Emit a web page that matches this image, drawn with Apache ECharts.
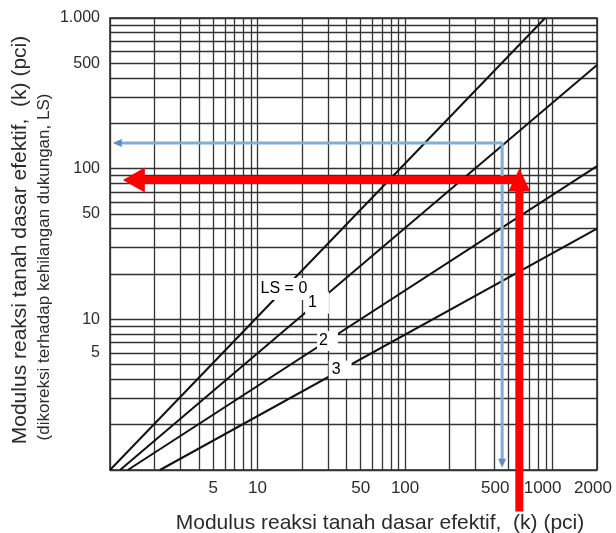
<!DOCTYPE html>
<html><head><meta charset="utf-8">
<script src="https://cdn.jsdelivr.net/npm/echarts@6/dist/echarts.min.js"></script>
<style>html,body{margin:0;padding:0;background:#fff}#c{width:616px;height:533px}</style>
</head><body><div id="c"></div>
<script>
// ---- data ----
const xTickLabels = [5, 10, 50, 100, 500, 1000, 2000];
const yTickLabels = [5, 10, 50, 100, 500, 1000];
const xGridValues = [1,2,3,4,5,6,7,8,9,10,20,30,40,50,60,70,80,90,100,200,300,400,500,600,700,800,900,1000,2000];
const yGridValues = [1,2,3,4,5,6,7,8,9,10,20,30,40,50,60,70,80,90,100,200,300,400,500,600,700,800,900,1000];
const lsNames = ['LS = 0', '1', '2', '3'];
const ls0 = [[1, 1], [890, 1000]];
const ls1 = [[1.17, 1], [2000, 487]];
const ls2 = [[1.32, 1], [2000, 104]];
const ls3 = [[2.18, 1], [2000, 40]];
const lsLabelPos = [[15.1, 15.9], [25.3, 12.9], [29.8, 7.18], [36.3, 4.64]];
const bluePath = [[1.12, 148], [455, 148], [455, 1.11]];
const redPath = [[595, 0.53], [595, 84], [1.45, 84]];

// ---- styles ----
const FONT = '"Liberation Sans", Arial, sans-serif';
const TXT = '#2b2b2b';
const labelPadding = [[3, 2, 3, 2], [3, 12, 3, 3], [2, 10, 2, 2], [1, 11, 1, 3]];

const chart = echarts.init(document.getElementById('c'), null, {renderer: 'canvas'});

function lsSeries(data) {
  return {type: 'line', data: data, symbol: 'none', clip: true, z: 3, silent: true,
    lineStyle: {color: '#111', width: 2}};
}
const xRich = {
  s500: {fontSize: 17, color: TXT, fontFamily: FONT, padding: [0, 26, 0, 0]},
  s1000: {fontSize: 17, color: TXT, fontFamily: FONT, padding: [0, 20, 0, 0]},
  s2000: {fontSize: 17, color: TXT, fontFamily: FONT, padding: [0, 8, 0, 0]}
};

const option = {
  animation: false,
  backgroundColor: '#fff',
  grid: {left: 110, top: 18, width: 487, height: 452, show: true, containLabel: false,
    outerBoundsMode: 'none',
    borderColor: '#222', borderWidth: 1.5, backgroundColor: 'transparent'},
  xAxis: {
    type: 'log', logBase: 10, min: 1, max: 2000,
    axisLine: {show: false},
    axisTick: {show: false, customValues: xGridValues},
    axisLabel: {customValues: xTickLabels, margin: 10, fontSize: 17, color: TXT, fontFamily: FONT,
      formatter: v => (v === 500 || v === 1000 || v === 2000) ? '{s' + v + '|' + v + '}' : String(v),
      rich: xRich},
    splitLine: {show: true, lineStyle: {color: '#333', width: 1.3}},
    name: 'Modulus reaksi tanah dasar efektif,  (k) (pci)',
    nameLocation: 'middle', nameGap: 43,
    nameTextStyle: {fontSize: 21, color: TXT, fontFamily: FONT, padding: [0, 0, 0, 53]}
  },
  yAxis: {
    type: 'log', logBase: 10, min: 1, max: 1000,
    axisLine: {show: false},
    axisTick: {show: false, customValues: yGridValues},
    axisLabel: {customValues: yTickLabels, margin: 10, fontSize: 16, color: TXT, fontFamily: FONT,
      formatter: v => v === 1000 ? '1.000' : (v === 5 ? '{up|5}' : String(v)),
      rich: {up: {fontSize: 16, color: TXT, fontFamily: FONT, padding: [0, 0, 24, 0]}}},
    splitLine: {show: true, lineStyle: {color: '#333', width: 1.3}}
  },
  graphic: [
    {type: 'text', x: 20, y: 240, rotation: Math.PI / 2, silent: true,
      style: {text: 'Modulus reaksi tanah dasar efektif,  (k) (pci)', fontSize: 21, fontFamily: FONT,
        fill: TXT, align: 'center', verticalAlign: 'middle'}},
    {type: 'text', x: 44, y: 267, rotation: Math.PI / 2, silent: true,
      style: {text: '(dikoreksi terhadap kehilangan dukungan, LS)', fontSize: 17, fontFamily: FONT,
        fill: TXT, align: 'center', verticalAlign: 'middle'}}
  ],
  series: [
    lsSeries(ls0), lsSeries(ls1), lsSeries(ls2), lsSeries(ls3),
    {type: 'scatter', z: 5, silent: true, symbolSize: 1,
      itemStyle: {color: 'rgba(0,0,0,0)', opacity: 1},
      data: lsLabelPos.map((p, i) => ({value: p, name: lsNames[i],
        label: {padding: labelPadding[i]}})),
      label: {show: true, position: 'inside', formatter: '{b}', backgroundColor: '#fff',
        color: '#000', fontSize: 16, fontFamily: FONT, opacity: 1}},
    {type: 'line', z: 8, silent: true, clip: false,
      data: bluePath.map((p, i) => ({value: p,
        symbol: i === 1 ? 'none' : 'triangle',
        symbolSize: [8, 9], symbolRotate: i === 0 ? 90 : 180})),
      lineStyle: {color: '#7eaedb', width: 3}, itemStyle: {color: '#5b8fc4'}},
    {type: 'line', z: 10, silent: true, clip: false,
      data: redPath.map((p, i) => ({value: p,
        symbol: i === 0 ? 'none' : 'triangle',
        symbolSize: i === 1 ? [22, 23] : [25, 22], symbolRotate: i === 2 ? 90 : 0})),
      lineStyle: {color: '#ff0000', width: 8, join: 'miter'}, itemStyle: {color: '#ff0000'}}
  ]
};
chart.setOption(option);
</script>
</body></html>
